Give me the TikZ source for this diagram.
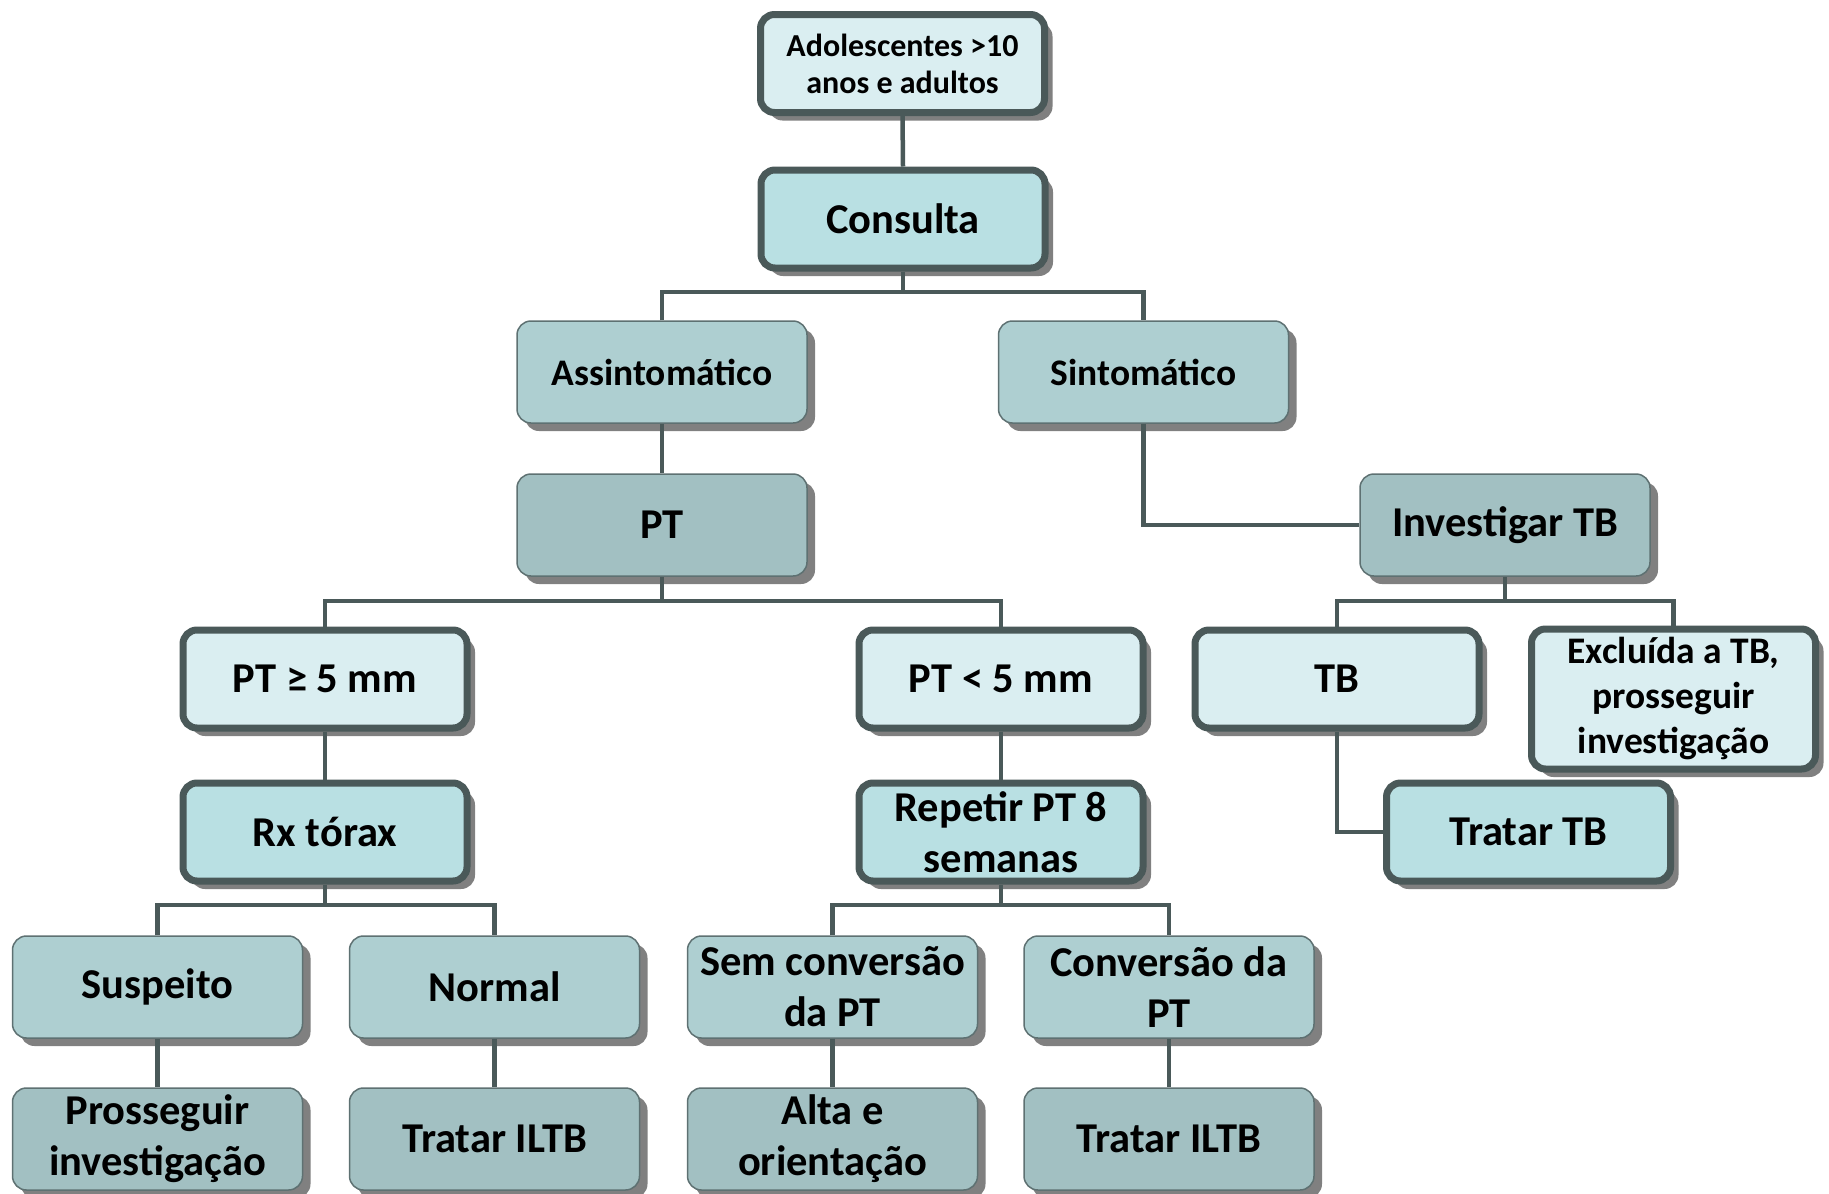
\documentclass[tikz,border=0pt]{standalone}
\usepackage{fontspec}
\setmainfont{Carlito}
\usetikzlibrary{shadows}
\definecolor{clight}{HTML}{DAEEF1}
\definecolor{cmid}{HTML}{B9E0E3}
\definecolor{cgc}{HTML}{AECFD1}
\definecolor{cdark}{HTML}{A2C0C2}
\definecolor{cborder}{HTML}{4A5959}
\definecolor{cthin}{HTML}{5E7172}
\definecolor{cshadow}{HTML}{808080}
\tikzset{
  box/.style={rectangle, rounded corners=14pt, align=center, inner sep=2pt,
    minimum width=286pt, minimum height=100pt, text=black,
    drop shadow={shadow xshift=8pt, shadow yshift=-8pt, fill=cshadow, opacity=1}},
  thickbox/.style={box, draw=cborder, line width=7pt, minimum width=284pt, minimum height=98pt},
  thinbox/.style={box, draw=cthin, line width=1.5pt, minimum width=290pt, minimum height=102pt},
  fA/.style={font=\fontsize{32}{37}\selectfont\bfseries},
  fB/.style={font=\fontsize{37.5}{45}\selectfont\bfseries},
  fC/.style={font=\fontsize{42.5}{51}\selectfont\bfseries},
  conn/.style={draw=cborder, line width=4.5pt},
}
\begin{document}
\begin{tikzpicture}[x=1pt,y=-1pt]
\useasboundingbox[fill=white] (0,0) rectangle (1829,1194);
% level 1-2
\node[thickbox, fill=clight, fA] (adol) at (902.5,63.5) {Adolescentes >10\\anos e adultos};
\node[thickbox, fill=cmid, fC] (cons) at (903,219) {Consulta};
% level 3
\node[thinbox, fill=cgc, fB] (assint) at (662,372) {Assintomático};
\node[thinbox, fill=cgc, fB] (sint) at (1143.5,372) {Sintomático};
% level 4
\node[thinbox, fill=cdark, fC] (pt) at (662,525) {PT};
\node[thinbox, fill=cdark, fC] (invtb) at (1505,525) {Investigar TB};
% level 5
\node[thickbox, fill=clight, fC] (pt5) at (325,679) {PT ≥ 5 mm};
\node[thickbox, fill=clight, fC] (ptl5) at (1001,679) {PT < 5 mm};
\node[thickbox, fill=clight, fC] (tb) at (1337,679) {TB};
\node[thickbox, fill=clight, fB, minimum height=140pt] (excl) at (1673.5,699) {Excluída a TB,\\prosseguir\\investigação};
% level 6
\node[thickbox, fill=cmid, fC] (rx) at (325,832) {Rx tórax};
\node[thickbox, fill=cmid, fC] (rep) at (1001,832) {Repetir PT 8\\semanas};
\node[thickbox, fill=cmid, fC] (tratb) at (1528.5,832) {Tratar TB};
% level 7
\node[thinbox, fill=cgc, fC] (susp) at (157.5,987) {Suspeito};
\node[thinbox, fill=cgc, fC] (norm) at (494.5,987) {Normal};
\node[thinbox, fill=cgc, fC] (semc) at (832.5,987) {Sem conversão\\da PT};
\node[thinbox, fill=cgc, fC] (conv) at (1169,987) {Conversão da\\PT};
% level 8
\node[thinbox, fill=cdark, fC] (pros) at (157.5,1139) {Prosseguir\\investigação};
\node[thinbox, fill=cdark, fC] (trilA) at (494.5,1139) {Tratar ILTB};
\node[thinbox, fill=cdark, fC] (alta) at (832.5,1139) {Alta e\\orientação};
\node[thinbox, fill=cdark, fC] (trilB) at (1169,1139) {Tratar ILTB};
% bus coordinates
\coordinate (busA) at (0,292);
\coordinate (busB) at (0,601);
\coordinate (busC) at (0,905);
% connectors
\draw[conn] (adol.south) -- (cons.north);
\draw[conn] (cons.south) -- (cons.south |- busA);
\draw[conn] (assint.north) -- (assint.north |- busA) -- (sint.north |- busA) -- (sint.north);
\draw[conn] (assint.south) -- (pt.north);
\draw[conn] (sint.south) |- (invtb.west);
\draw[conn] (pt.south) -- (pt.south |- busB);
\draw[conn] (pt5.north) -- (pt5.north |- busB) -- (ptl5.north |- busB) -- (ptl5.north);
\draw[conn] (invtb.south) -- (invtb.south |- busB);
\draw[conn] (tb.north) -- (tb.north |- busB) -- (excl.north |- busB) -- (excl.north);
\draw[conn] (tb.south) |- (tratb.west);
\draw[conn] (pt5.south) -- (rx.north);
\draw[conn] (ptl5.south) -- (rep.north);
\draw[conn] (rx.south) -- (rx.south |- busC);
\draw[conn] (susp.north) -- (susp.north |- busC) -- (norm.north |- busC) -- (norm.north);
\draw[conn] (rep.south) -- (rep.south |- busC);
\draw[conn] (semc.north) -- (semc.north |- busC) -- (conv.north |- busC) -- (conv.north);
\draw[conn] (susp.south) -- (pros.north);
\draw[conn] (norm.south) -- (trilA.north);
\draw[conn] (semc.south) -- (alta.north);
\draw[conn] (conv.south) -- (trilB.north);
\end{tikzpicture}
\end{document}
